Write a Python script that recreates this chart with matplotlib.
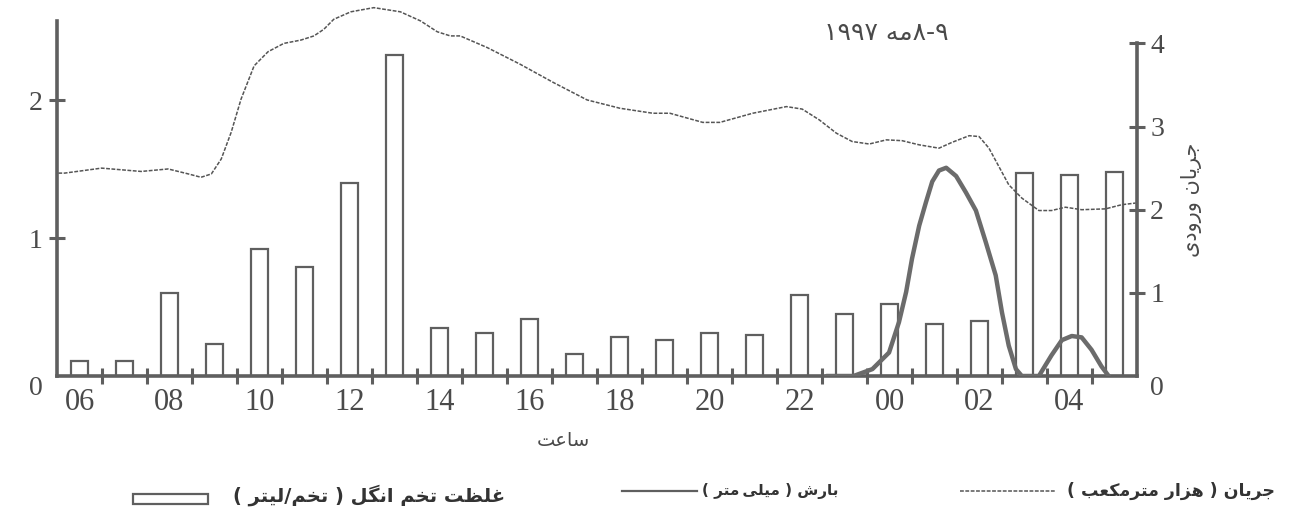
import re

import matplotlib
matplotlib.use("Agg")
import matplotlib.pyplot as plt
from matplotlib.lines import Line2D
from matplotlib.patches import Rectangle

# ---------------------------------------------------------------------------
# Data
# ---------------------------------------------------------------------------
# hourly sampling, 06:00 on the 8th to 05:00 on the 9th (hours past midnight of day 1)
bar_hours = list(range(6, 30))
egg_conc = [0.11, 0.11, 0.60, 0.23, 0.92, 0.79, 1.40, 2.33, 0.35, 0.31, 0.41, 0.16,
            0.28, 0.26, 0.31, 0.30, 0.59, 0.45, 0.52, 0.38, 0.40, 1.47, 1.46, 1.48]

# rainfall (mm)
rain_hours = [22.6, 23.2, 23.62, 23.99, 24.21, 24.37, 24.50, 24.66, 24.81, 24.95,
              25.10, 25.26, 25.48, 25.70, 25.92, 26.14, 26.36, 26.50, 26.65, 26.81,
              26.94, 27.32, 27.60, 27.83, 28.05, 28.27, 28.49, 28.71, 28.87]
rain_mm = [0.0, 0.0, 0.05, 0.17, 0.39, 0.61, 0.85, 1.09, 1.26, 1.41,
           1.49, 1.51, 1.45, 1.33, 1.20, 0.97, 0.73, 0.46, 0.22, 0.05,
           0.0, 0.0, 0.15, 0.26, 0.29, 0.28, 0.19, 0.07, 0.0]

# inflow (thousand m3)
flow_hours = [5.53, 5.67, 6.49, 7.37, 7.97, 8.42, 8.70, 8.93, 9.15, 9.37, 9.59, 9.88,
              10.19, 10.54, 10.92, 11.21, 11.43, 11.65, 12.03, 12.54, 13.13, 13.58,
              13.95, 14.24, 14.46, 15.06, 15.79, 16.53, 17.28, 18.01, 18.74, 19.12,
              19.85, 20.23, 20.96, 21.71, 22.06, 22.44, 22.82, 23.17, 23.55, 23.93,
              24.28, 24.66, 25.10, 25.39, 25.77, 25.99, 26.21, 26.43, 26.65, 26.94,
              27.32, 27.60, 27.91, 28.27, 28.80, 29.16, 29.47]
flow_k = [2.44, 2.44, 2.50, 2.46, 2.49, 2.43, 2.39, 2.43, 2.61, 2.93, 3.33, 3.73,
          3.90, 4.00, 4.04, 4.09, 4.17, 4.29, 4.38, 4.43, 4.38, 4.27,
          4.14, 4.09, 4.09, 3.95, 3.75, 3.53, 3.32, 3.22, 3.16, 3.16,
          3.05, 3.05, 3.16, 3.24, 3.21, 3.08, 2.92, 2.82, 2.79, 2.84,
          2.83, 2.78, 2.74, 2.81, 2.89, 2.88, 2.74, 2.52, 2.30, 2.14,
          1.99, 1.99, 2.03, 2.00, 2.01, 2.06, 2.08]

hour_ticks = list(range(6, 30, 2))
hour_labels = ["06", "08", "10", "12", "14", "16", "18", "20", "22", "00", "02", "04"]
left_ticks = [0, 1, 2]
right_ticks = [0, 1, 2, 3, 4]

# ---------------------------------------------------------------------------
# Persian text helpers (matplotlib has no shaping / bidi of its own)
# ---------------------------------------------------------------------------
FORMS = {  # isolated, final, initial, medial
    "ا": ("\uFE8D", "\uFE8E", None, None),
    "ب": ("\uFE8F", "\uFE90", "\uFE91", "\uFE92"),
    "ت": ("\uFE95", "\uFE96", "\uFE97", "\uFE98"),
    "ج": ("\uFE9D", "\uFE9E", "\uFE9F", "\uFEA0"),
    "خ": ("\uFEA5", "\uFEA6", "\uFEA7", "\uFEA8"),
    "د": ("\uFEA9", "\uFEAA", None, None),
    "ر": ("\uFEAD", "\uFEAE", None, None),
    "ز": ("\uFEAF", "\uFEB0", None, None),
    "س": ("\uFEB1", "\uFEB2", "\uFEB3", "\uFEB4"),
    "ش": ("\uFEB5", "\uFEB6", "\uFEB7", "\uFEB8"),
    "ظ": ("\uFEC5", "\uFEC6", "\uFEC7", "\uFEC8"),
    "ع": ("\uFEC9", "\uFECA", "\uFECB", "\uFECC"),
    "غ": ("\uFECD", "\uFECE", "\uFECF", "\uFED0"),
    "ل": ("\uFEDD", "\uFEDE", "\uFEDF", "\uFEE0"),
    "م": ("\uFEE1", "\uFEE2", "\uFEE3", "\uFEE4"),
    "ن": ("\uFEE5", "\uFEE6", "\uFEE7", "\uFEE8"),
    "ه": ("\uFEE9", "\uFEEA", "\uFEEB", "\uFEEC"),
    "و": ("\uFEED", "\uFEEE", None, None),
    "ک": ("\uFB8E", "\uFB8F", "\uFB90", "\uFB91"),
    "گ": ("\uFB92", "\uFB93", "\uFB94", "\uFB95"),
    "ی": ("\uFBFC", "\uFBFD", "\uFBFE", "\uFBFF"),
}


def shape(text):
    out = []
    for i, ch in enumerate(text):
        if ch not in FORMS:
            out.append("\u2009" if ch == "\u200c" else ch)
            continue
        prev = text[i - 1] if i > 0 else ""
        nxt = text[i + 1] if i + 1 < len(text) else ""
        join_prev = prev in FORMS and FORMS[prev][2] is not None
        join_next = nxt in FORMS and FORMS[ch][2] is not None
        iso, fin, ini, med = FORMS[ch]
        if join_prev and join_next:
            out.append(med)
        elif join_prev:
            out.append(fin)
        elif join_next:
            out.append(ini)
        else:
            out.append(iso)
    return "".join(out)


def fa(text):
    s = shape(text)
    runs = re.findall(r"[0-9\u06F0-\u06F9]+(?:-[0-9\u06F0-\u06F9]+)*|[^0-9\u06F0-\u06F9]+", s)
    mirror = str.maketrans("()", ")(")
    return "".join(r if r[0].isdigit() else r[::-1].translate(mirror) for r in reversed(runs))


# ---------------------------------------------------------------------------
# Plot
# ---------------------------------------------------------------------------
W, H = 1290, 517
INK = "#5f5f5f"
TXT = "#4a4a4a"
FA_FONT = ["DejaVu Sans"]
NUM_FONT = ["Liberation Serif", "DejaVu Serif"]


def fx(px):
    return px / W


def fy(py):
    return 1 - py / H


fig = plt.figure(figsize=(W / 100, H / 100), dpi=100)
ax = fig.add_axes([fx(57), fy(376), fx(1137) - fx(57), (376 - 2) / H])
ax2 = ax.twinx()

# parasite-egg concentration bars and rainfall on the left scale
ax.bar(bar_hours, egg_conc, width=0.375, facecolor="white", edgecolor=INK,
       linewidth=1.6, zorder=2)
ax.plot(rain_hours, rain_mm, color="#6b6b6b", lw=3.2, zorder=3,
        solid_capstyle="round", solid_joinstyle="round")

# inflow on the right scale
ax2.plot(flow_hours, flow_k, color="#555555", lw=1.1, ls=(0, (2.5, 1.0)),
         clip_on=False)

ax.set_xlim(5.5, 29.5)
ax.set_ylim(0, 374 / 137.9)
ax2.set_ylim(0, 374 / 83.15)

for a in (ax, ax2):
    for s in a.spines.values():
        s.set_visible(False)
ax.spines["left"].set_visible(True)
ax.spines["bottom"].set_visible(True)
ax2.spines["right"].set_visible(True)
for s in (ax.spines["left"], ax.spines["bottom"], ax2.spines["right"]):
    s.set_color(INK)
    s.set_linewidth(2.6)
ax.spines["left"].set_bounds(0, (376 - 21) / 137.9)
ax2.spines["right"].set_bounds(0, 4)

# x axis: labels on even hours, tick marks between the hourly bars
ax.set_xticks(hour_ticks)
ax.set_xticklabels(hour_labels, family=NUM_FONT, fontsize=22, color=TXT)
ax.set_xticks([h + 0.5 for h in range(6, 29)], minor=True)
ax.tick_params(axis="x", which="major", length=0, pad=9)
ax.tick_params(axis="x", which="minor", direction="inout", length=11,
               width=2.2, color=INK)

ax.set_yticks(left_ticks)
ax.set_yticklabels([str(t) for t in left_ticks], family=NUM_FONT, fontsize=20, color=TXT)
ax.tick_params(axis="y", direction="inout", length=11, width=2.2, color=INK, pad=5)
ax2.set_yticks(right_ticks)
ax2.set_yticklabels([str(t) for t in right_ticks], family=NUM_FONT, fontsize=20, color=TXT)
ax2.tick_params(axis="y", direction="inout", length=11, width=2.2, color=INK, pad=4)

for a in (ax, ax2):
    zero = a.yaxis.get_major_ticks()[0]
    zero.tick1line.set_visible(False)
    zero.tick2line.set_visible(False)
    zero.label1.set_va("top")
    zero.label2.set_va("top")

# titles and axis captions
fig.text(fx(886), fy(33), fa("۸-۹مه ۱۹۹۷"), family=FA_FONT, fontsize=18,
         color=TXT, ha="center", va="center")
fig.text(fx(563), fy(440), fa("ساعت"), family=FA_FONT, fontsize=14,
         color=TXT, ha="center", va="center")
fig.text(fx(1192), fy(200), fa("جریان ورودی"), family=FA_FONT, fontsize=15,
         color=TXT, ha="center", va="center", rotation=90)

# legend row
fig.add_artist(Rectangle((fx(133), fy(504)), fx(208) - fx(133), fy(494) - fy(504),
                         transform=fig.transFigure, facecolor="white",
                         edgecolor=INK, linewidth=1.6))
fig.text(fx(505), fy(495), fa("غلظت تخم انگل ( تخم/لیتر )"), family=FA_FONT,
         fontsize=14, fontweight="bold", color="#333333", ha="right", va="center")
fig.add_artist(Line2D([fx(622), fx(697)], [fy(491), fy(491)], transform=fig.transFigure,
                      color=INK, lw=1.6))
fig.text(fx(838), fy(491), fa("بارش ( میلی\u200cمتر )"), family=FA_FONT,
         fontsize=11, fontweight="bold", color="#333333", ha="right", va="center")
fig.add_artist(Line2D([fx(960), fx(1055)], [fy(491), fy(491)], transform=fig.transFigure,
                      color="#555555", lw=1.1, ls=(0, (2.5, 1.0))))
fig.text(fx(1275), fy(491), fa("جریان ( هزار مترمکعب )"), family=FA_FONT,
         fontsize=12.5, fontweight="bold", color="#333333", ha="right", va="center")

fig.savefig("out.png", dpi=100, facecolor="white")
